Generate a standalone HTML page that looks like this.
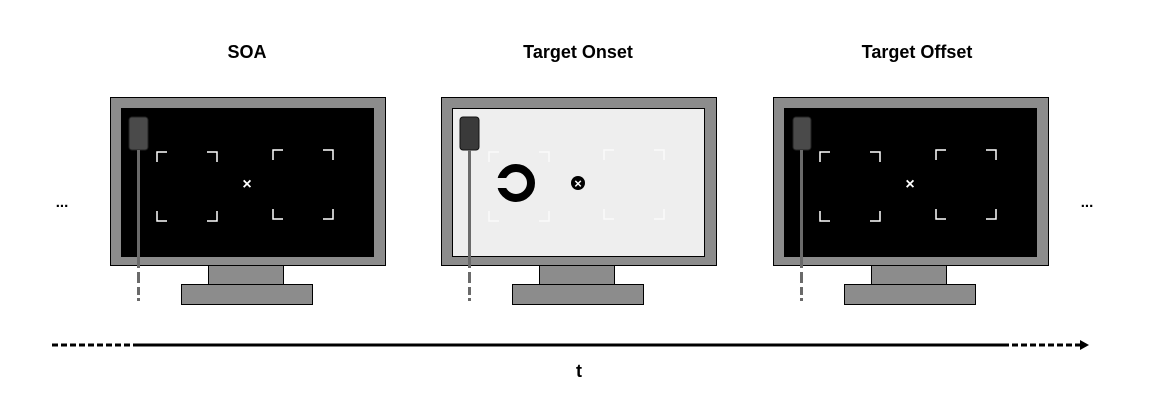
<!DOCTYPE html>
<html><head><meta charset="utf-8"><style>
html,body{margin:0;padding:0;background:#fff;}
svg{display:block;}
text{font-family:"Liberation Sans",sans-serif;}
</style></head><body>
<svg width="1167" height="418" viewBox="0 0 1167 418">
<defs>
<g id="mon">
<rect x="110.5" y="97.5" width="275" height="168" fill="#8c8c8c" stroke="#000" stroke-width="1"/>
<rect x="208.5" y="265.5" width="75" height="19" fill="#8c8c8c" stroke="#000"/>
<rect x="181.5" y="284.5" width="131" height="20" fill="#8c8c8c" stroke="#000"/>
</g>
<g id="brk" fill="none" stroke-width="1.5">
<path d="M0,10 V0 H10 M50,0 H60 V10 M60,59 V69 H50 M10,69 H0 V59"/>
</g>
</defs>

<text x="247" y="58" text-anchor="middle" font-size="18" font-weight="bold">SOA</text>
<text x="578" y="58" text-anchor="middle" font-size="18" font-weight="bold">Target Onset</text>
<text x="917" y="58" text-anchor="middle" font-size="18" font-weight="bold">Target Offset</text>

<g>
<use href="#mon"/>
<rect x="121.5" y="108.5" width="252" height="148" fill="#000" stroke="#000"/>
<use href="#brk" x="157" y="152" stroke="#fff"/>
<use href="#brk" x="273" y="150" stroke="#fff"/>
<text x="247" y="189" text-anchor="middle" font-size="16" font-weight="bold" fill="#fff">×</text>
<rect x="129" y="117" width="19" height="33" rx="3" fill="#4a4a4a" stroke="#222"/>
<rect x="137" y="150" width="3" height="118" fill="#6a6a6a"/>
<rect x="137" y="272" width="3" height="11" fill="#6a6a6a"/>
<rect x="137" y="287" width="3" height="8" fill="#6a6a6a"/>
<rect x="137" y="298" width="3" height="3" fill="#6a6a6a"/>
</g>

<g>
<use href="#mon" x="331"/>
<rect x="452.5" y="108.5" width="252" height="148" fill="#eeeeee" stroke="#000"/>
<use href="#brk" x="489" y="152" stroke="#fafafa" stroke-width="1"/>
<use href="#brk" x="604" y="150" stroke="#fafafa" stroke-width="1"/>
<g>
<circle cx="516" cy="183" r="15" fill="none" stroke="#000" stroke-width="8"/>
<rect x="494" y="178" width="19" height="10" fill="#eeeeee"/>
</g>
<circle cx="578" cy="183" r="7" fill="#000"/>
<text x="578" y="188" text-anchor="middle" font-size="13" font-weight="bold" fill="#fff">×</text>
<rect x="460" y="117" width="19" height="33" rx="3" fill="#3a3a3a" stroke="#111"/>
<rect x="468" y="150" width="3" height="118" fill="#6a6a6a"/>
<rect x="468" y="272" width="3" height="11" fill="#6a6a6a"/>
<rect x="468" y="287" width="3" height="8" fill="#6a6a6a"/>
<rect x="468" y="298" width="3" height="3" fill="#6a6a6a"/>
</g>

<g>
<use href="#mon" x="663"/>
<rect x="784.5" y="108.5" width="252" height="148" fill="#000" stroke="#000"/>
<use href="#brk" x="820" y="152" stroke="#fff"/>
<use href="#brk" x="936" y="150" stroke="#fff"/>
<text x="910" y="189" text-anchor="middle" font-size="16" font-weight="bold" fill="#fff">×</text>
<rect x="793" y="117" width="18" height="33" rx="3" fill="#4a4a4a" stroke="#222"/>
<rect x="800" y="150" width="3" height="118" fill="#6a6a6a"/>
<rect x="800" y="272" width="3" height="11" fill="#6a6a6a"/>
<rect x="800" y="287" width="3" height="8" fill="#6a6a6a"/>
<rect x="800" y="298" width="3" height="3" fill="#6a6a6a"/>
</g>

<text x="62" y="207" text-anchor="middle" font-size="15" font-weight="bold">...</text>
<text x="1087" y="207" text-anchor="middle" font-size="15" font-weight="bold">...</text>

<g>
<line x1="52" y1="345" x2="138" y2="345" stroke="#000" stroke-width="3" stroke-dasharray="6,3"/>
<line x1="138" y1="345" x2="1003" y2="345" stroke="#000" stroke-width="3"/>
<line x1="1003" y1="345" x2="1080" y2="345" stroke="#000" stroke-width="3" stroke-dasharray="6,3"/>
<path d="M1080,340 L1089,345 L1080,350 Z" fill="#000"/>
</g>
<text x="579" y="377" text-anchor="middle" font-size="18" font-weight="bold">t</text>
</svg>
</body></html>
